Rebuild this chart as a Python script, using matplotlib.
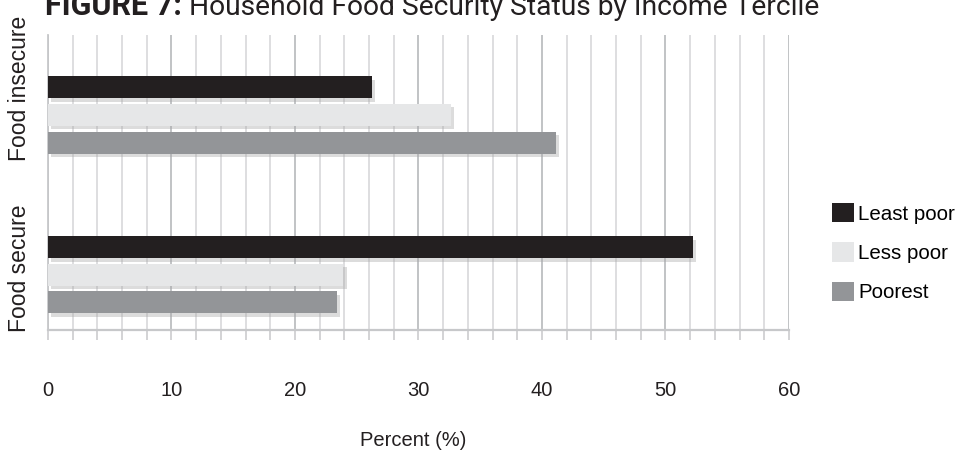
"""
Household food security status by income tercile - horizontal grouped bars.
Writes out.png (961x453).
"""

import matplotlib

matplotlib.use("Agg")
import matplotlib.pyplot as plt  # noqa: E402
import matplotlib.patheffects as pe  # noqa: E402
from matplotlib.patches import Patch  # noqa: E402
from matplotlib.ticker import MultipleLocator  # noqa: E402

CATEGORIES = ["Food secure", "Food insecure"]
SERIES = ["Least poor", "Less poor", "Poorest"]
LEAST_POOR = [52.2, 26.2]
LESS_POOR = [23.9, 32.6]
POOREST = [23.4, 41.1]
X_TICKS = [0, 10, 20, 30, 40, 50, 60]

COLORS = ["#231f20", "#e6e7e8", "#939598"]
GRID_MAJOR = "#bcbec0"
GRID_MINOR = "#d4d5d7"
FONT = "Liberation Sans"

plt.rcParams["font.family"] = [FONT, "DejaVu Sans"]

W, H = 961, 453
fig = plt.figure(figsize=(W / 100, H / 100), dpi=100)
ax = fig.add_axes([48 / W, 123 / H, 741 / W, 295 / H])

offsets = [0.172, 0.0, -0.172]
height = 0.1375
shadow = [pe.SimplePatchShadow(offset=(2.5, -2.5), shadow_rgbFace="#a8a8a8", alpha=0.4), pe.Normal()]
for vals, off, color, name in zip((LEAST_POOR, LESS_POOR, POOREST), offsets, COLORS, SERIES):
    ys = [i + off for i in range(len(CATEGORIES))]
    bars = ax.barh(ys, vals, height, color=color, label=name, zorder=3, linewidth=0)
    for b in bars:
        b.set_path_effects(shadow)

ax.set_xlim(X_TICKS[0], X_TICKS[-1])
ax.set_ylim(-0.344, 1.5)
ax.xaxis.set_major_locator(MultipleLocator(10))
ax.xaxis.set_minor_locator(MultipleLocator(2))
ax.grid(axis="x", which="major", color=GRID_MAJOR, linewidth=1.3, zorder=0)
ax.grid(axis="x", which="minor", color=GRID_MINOR, linewidth=1.1, zorder=0)
ax.set_axisbelow(True)

for side in ("top", "right"):
    ax.spines[side].set_visible(False)
ax.spines["bottom"].set_color("#c7c8ca")
ax.spines["bottom"].set_linewidth(1.6)
ax.spines["left"].set_color("#c7c8ca")
ax.spines["left"].set_linewidth(1.3)

ax.tick_params(axis="x", which="both", length=7.5, color="#c7c8ca", width=1.1)
ax.tick_params(axis="x", which="major", labelsize=14.5, pad=29, labelcolor="#231f20")
ax.set_xticks(X_TICKS)
ax.set_yticks([])

# category labels, rotated, sitting left of the axis
label_y = [268, 88]  # pixel centres from the top
for cat, py in zip(CATEGORIES, label_y):
    fig.text(20 / W, 1 - py / H, cat, rotation=90, ha="center", va="center",
             fontsize=16.5, color="#231f20")

fig.text(413 / W, 1 - 440 / H, "Percent (%)", ha="center", va="center",
         fontsize=14.5, color="#231f20")

handles = [Patch(facecolor=c, edgecolor="none", label=s) for c, s in zip(COLORS, SERIES)]
fig.legend(handles=handles, loc="upper left", bbox_to_anchor=(832 / W, 1 - 203 / H),
           frameon=False, fontsize=14.8, handlelength=1.05, handleheight=1.05,
           handletextpad=0.22, labelspacing=0.92, borderaxespad=0, borderpad=0)

# title, clipped at the top edge as in the source
t1 = fig.text(45 / W, 1 - 15 / H, "FIGURE 7:", fontsize=22, fontweight="bold",
              family="Roboto", color="#231f20", va="baseline")
fig.canvas.draw()
bb = t1.get_window_extent()
fig.text((bb.x1 + 7) / W, 1 - 15 / H, "Household Food Security Status by Income Tercile",
         fontsize=20.3, family="Roboto", color="#231f20", va="baseline")

fig.savefig("out.png", dpi=100)
